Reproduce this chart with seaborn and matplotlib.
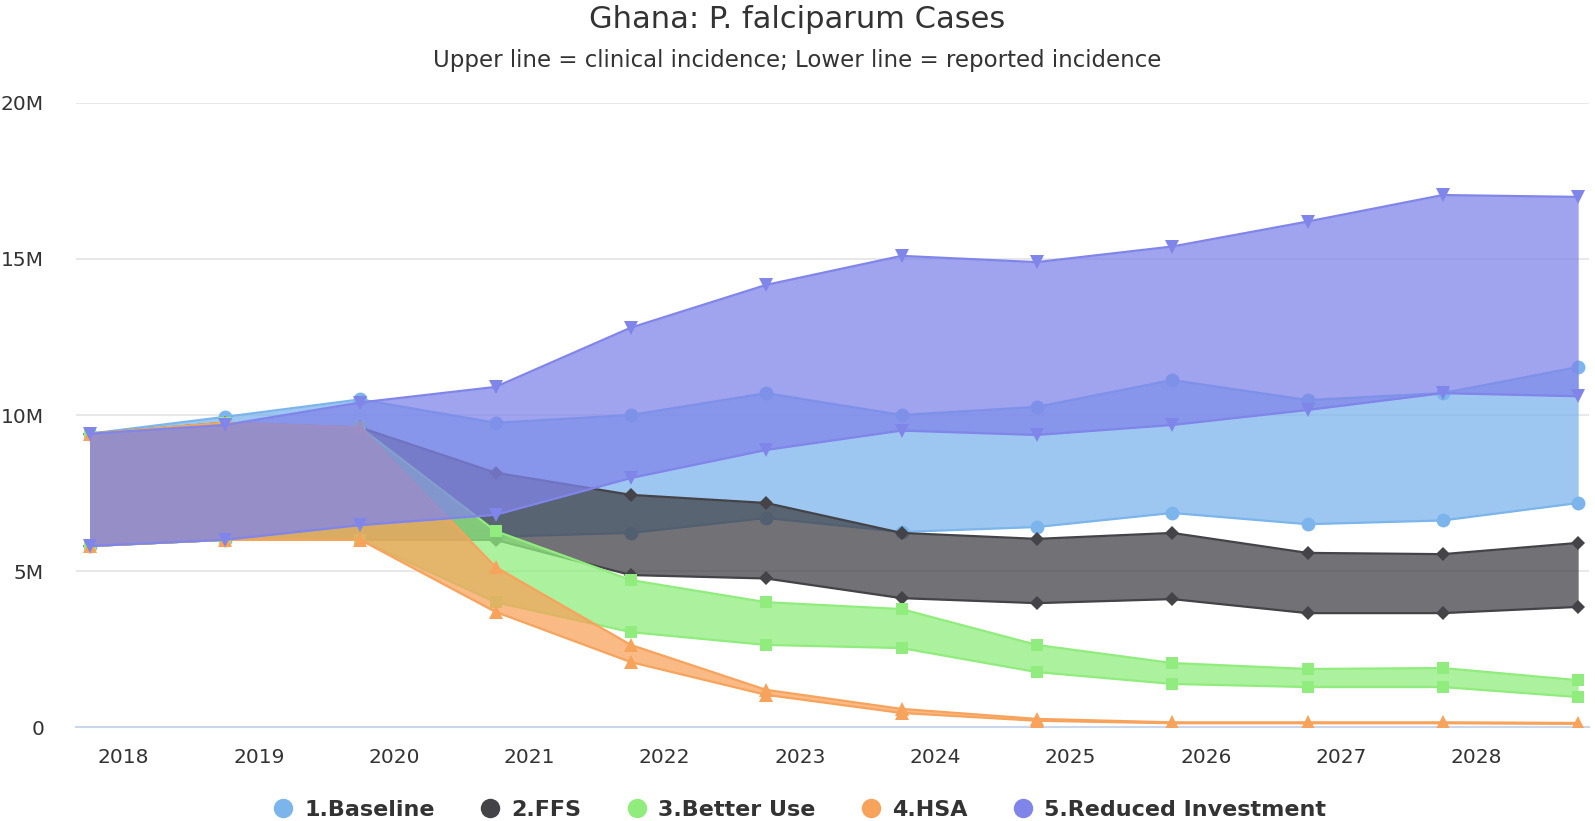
import numpy as np
import pandas as pd
import matplotlib
matplotlib.use("Agg")
import matplotlib.pyplot as plt
from matplotlib.lines import Line2D
from matplotlib.ticker import FuncFormatter
import seaborn as sns

sns.set_style("white")
plt.rcParams['font.family'] = ['DejaVu Sans']

# data (millions of cases), one upper/lower pair per scenario
years = ["2018", "2019", "2020", "2021", "2022", "2023",
         "2024", "2025", "2026", "2027", "2028"]
n_points = 12

baseline_upper = [9.4, 9.94, 10.5, 9.75, 10.0, 10.7, 10.0, 10.26, 11.12, 10.48, 10.7, 11.54]
baseline_lower = [5.8, 6.0, 6.1, 6.1, 6.22, 6.7, 6.25, 6.41, 6.86, 6.5, 6.62, 7.18]

ffs_upper = [9.4, 9.75, 9.6, 8.15, 7.44, 7.18, 6.22, 6.03, 6.22, 5.58, 5.54, 5.9]
ffs_lower = [5.8, 6.0, 6.0, 6.0, 4.87, 4.76, 4.13, 3.97, 4.1, 3.65, 3.65, 3.85]

better_upper = [9.4, 9.75, 9.6, 6.28, 4.71, 4.0, 3.78, 2.63, 2.05, 1.86, 1.89, 1.5]
better_lower = [5.8, 6.0, 6.0, 4.0, 3.04, 2.63, 2.53, 1.76, 1.38, 1.28, 1.28, 0.96]

hsa_upper = [9.4, 9.75, 9.6, 5.13, 2.63, 1.19, 0.58, 0.26, 0.15, 0.15, 0.15, 0.13]
hsa_lower = [5.8, 6.0, 6.0, 3.69, 2.08, 1.03, 0.45, 0.2, 0.12, 0.12, 0.12, 0.1]

reduced_upper = [9.4, 9.68, 10.4, 10.9, 12.8, 14.17, 15.1, 14.9, 15.4, 16.2, 17.05, 16.99]
reduced_lower = [5.8, 6.0, 6.47, 6.8, 7.98, 8.88, 9.5, 9.36, 9.68, 10.16, 10.7, 10.6]

series = [
    ("1.Baseline", baseline_upper, baseline_lower, "#7cb5ec", "o", 10),
    ("2.FFS", ffs_upper, ffs_lower, "#434348", "D", 7.5),
    ("3.Better Use", better_upper, better_lower, "#90ed7d", "s", 8.5),
    ("4.HSA", hsa_upper, hsa_lower, "#f7a35c", "^", 10),
    ("5.Reduced Investment", reduced_upper, reduced_lower, "#8085e9", "v", 10),
]

fig = plt.figure(figsize=(15.95, 8.21), dpi=100)
ax = fig.add_axes([76 / 1595, 1 - 727 / 821, (1589 - 76) / 1595, (727 - 103) / 821])

x = np.arange(n_points)
z = 2
for name, up, lo, color, marker, ms in series:
    df = pd.DataFrame({"x": x, "upper": np.array(up) * 1e6, "lower": np.array(lo) * 1e6})
    ax.fill_between(df["x"], df["lower"], df["upper"], color=color, alpha=0.75,
                    linewidth=0, zorder=z)
    for col in ["upper", "lower"]:
        sns.lineplot(data=df, x="x", y=col, ax=ax, color=color, linewidth=1.6,
                     marker=marker, markersize=ms, markeredgewidth=0, zorder=z + 1)
    z += 2

ax.set_xlim(-0.1, 11.08)
ax.set_ylim(0, 20e6)
ax.set_xlabel("")
ax.set_ylabel("")

# y axis
ax.set_yticks([0, 5e6, 10e6, 15e6, 20e6])
ax.yaxis.set_major_formatter(FuncFormatter(lambda v, p: "0" if v == 0 else f"{v / 1e6:.0f}M"))
ax.grid(axis="y", color="#e6e6e6", linewidth=1.3, zorder=0)
ax.set_axisbelow(True)
ax.tick_params(axis="y", length=0, pad=23, labelsize=14.5, labelcolor="#333333")

# x axis: ticks on points, labels shifted right
ax.set_xticks(x)
ax.set_xticklabels([""] * n_points)
ax.set_xticks(np.arange(len(years)) + 0.25, minor=True)
ax.set_xticklabels(years, minor=True)
ax.tick_params(axis="x", which="major", length=13, width=1.3, color="#ccd6eb")
ax.tick_params(axis="x", which="minor", length=0, pad=15, labelsize=14.5, labelcolor="#333333")

for s in ["top", "right", "left"]:
    ax.spines[s].set_visible(False)
ax.spines["bottom"].set_color("#ccd6eb")
ax.spines["bottom"].set_linewidth(1.5)

fig.text(0.5, 1 - 19 / 821, "Ghana: P. falciparum Cases", ha="center", va="center",
         fontsize=22, color="#333333")
fig.text(0.5, 1 - 61 / 821, "Upper line = clinical incidence; Lower line = reported incidence",
         ha="center", va="center", fontsize=16.5, color="#333333")

handles = [Line2D([], [], marker="o", linestyle="", markersize=14, color=c, markeredgewidth=0)
           for _, _, _, c, _, _ in series]
labels = [s[0] for s in series]
leg = fig.legend(handles, labels, loc="center", bbox_to_anchor=(0.501, 1 - 810 / 821), ncol=5,
                 frameon=False, handlelength=1.0, handletextpad=0.45, columnspacing=2.0,
                 borderpad=0.1, prop={"weight": "bold", "size": 16})
for t in leg.get_texts():
    t.set_color("#333333")

fig.savefig("out.png", dpi=100)
